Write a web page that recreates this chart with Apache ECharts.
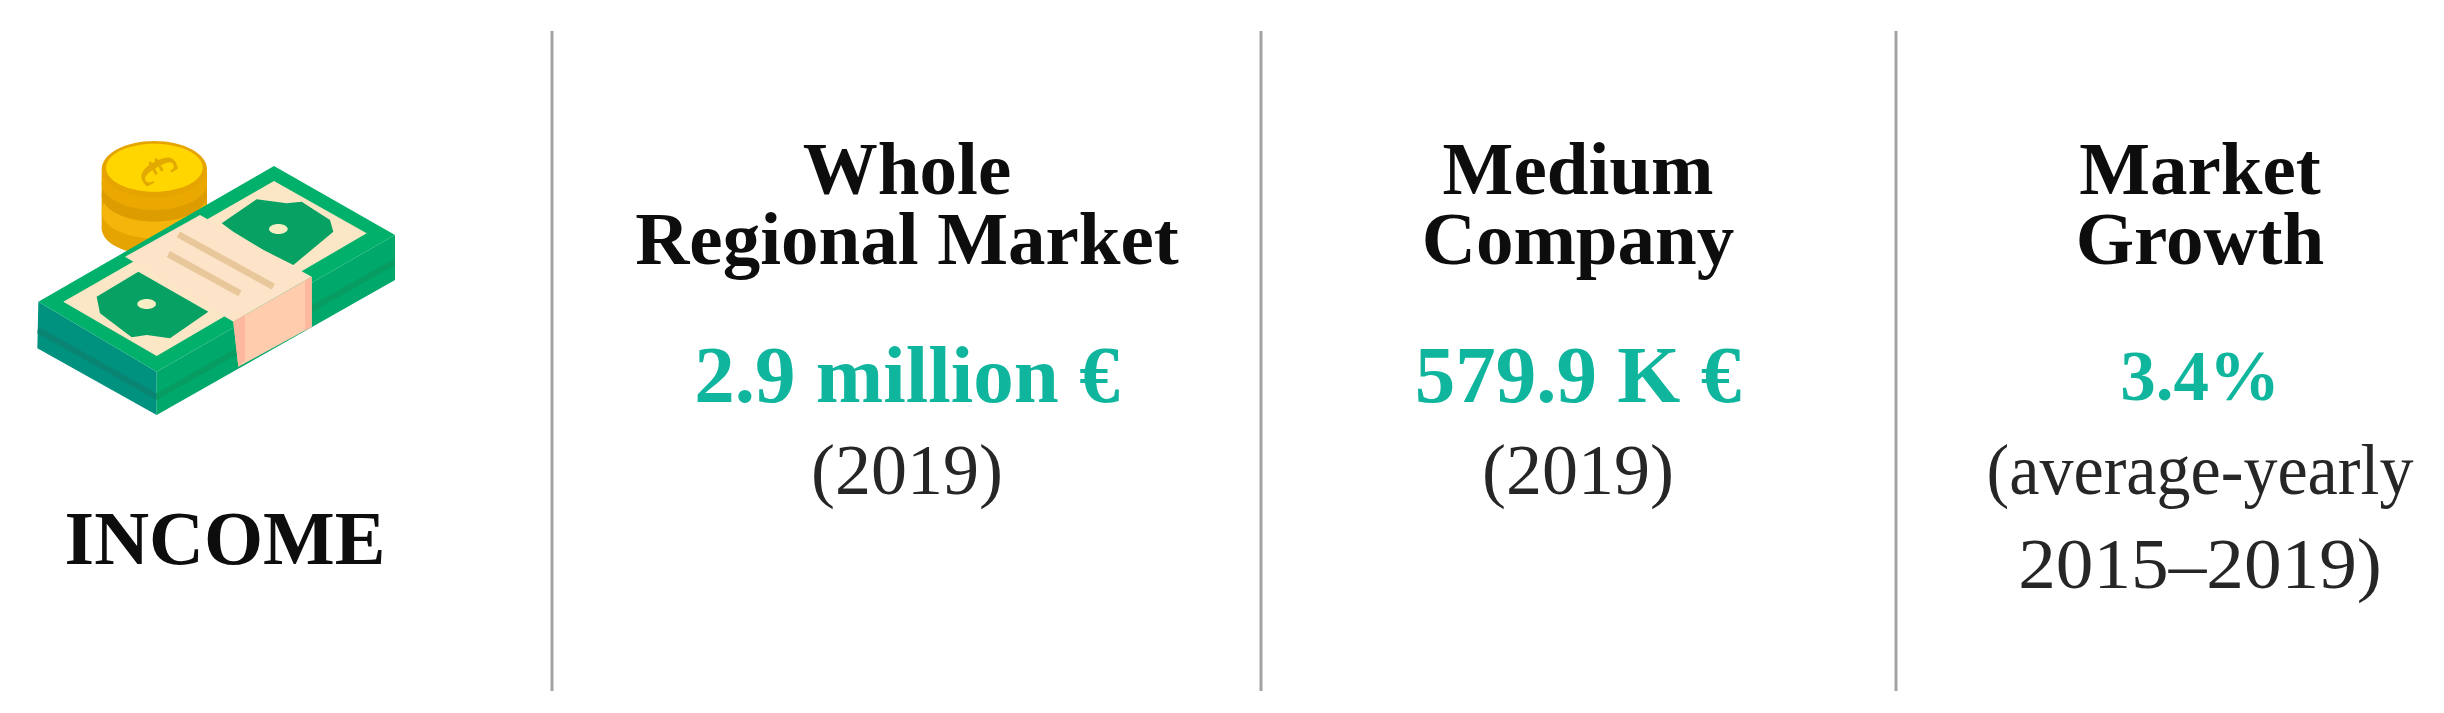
<!DOCTYPE html>
<html>
<head>
<meta charset="utf-8">
<title>Income</title>
<script src="https://cdn.jsdelivr.net/npm/echarts@6/dist/echarts.min.js"></script>
<style>
html, body { margin: 0; padding: 0; background: #fff; }
#main { width: 2444px; height: 713px; }
</style>
</head>
<body>
<div id="main"></div>
<script>
var iconTitle = "INCOME";
var headFirst = ["Whole", "Medium", "Market"];
var headSecond = ["Regional Market", "Company", "Growth"];
var values = ["2.9 million €", "579.9 K €", "3.4%"];
var noteFirst = ["(2019)", "(2019)", "(average-yearly"];
var noteSecond = ["", "", "2015–2019)"];

var columnX = [907, 1578, 2200];
var dividerX = [552, 1261, 1896];
var valueSize = [81, 81, 71];
var noteFirstStretch = [1, 1, 0.945];
var noteSecondStretch = [1, 1, 1.045];
var serif = '"Liberation Serif", serif';

function textItem(str, x, y, size, weight, color, scaleX) {
    return {
        type: 'text',
        x: x,
        y: y,
        scaleX: scaleX || 1,
        style: {
            text: str,
            x: 0,
            y: 0,
            fill: color,
            font: weight + ' ' + size + 'px ' + serif,
            textAlign: 'center',
            textVerticalAlign: 'middle'
        }
    };
}

function poly(points, color, z) {
    return {type: 'polygon', z: z, shape: {points: points}, style: {fill: color}};
}

function oval(cx, cy, rx, ry, color, z) {
    return {type: 'ellipse', z: z, shape: {cx: cx, cy: cy, rx: rx, ry: ry}, style: {fill: color}};
}

// icon is traced at 3x, the group scales it back down
function moneyIcon() {
    var c = [];
    // coins
    c.push({type: 'rect', z: 1, shape: {x: 305, y: 215, width: 316, height: 170}, style: {fill: '#e6a400'}});
    c.push(oval(463, 385, 158, 80, '#e6a400', 1));
    c.push(oval(463, 335, 158, 80, '#f5b50a', 1));
    c.push(oval(463, 285, 158, 80, '#dd9c00', 1));
    c.push(oval(463, 250, 158, 80, '#eba800', 1));
    c.push(oval(463, 208, 158, 85, '#e6a400', 1));
    c.push(oval(463, 203, 145, 72, '#ffd600', 1));
    c.push({
        type: 'text', z: 1, x: 463, y: 213, rotation: -1.05, scaleX: 0.75,
        style: {text: '€', x: 0, y: 0, fill: '#e2aa00', font: 'bold 170px ' + serif, textAlign: 'center', textVerticalAlign: 'middle'}
    });
    // stack of notes
    c.push(poly([[115, 605], [112, 745], [470, 945], [470, 815]], '#00917f', 2));
    c.push(poly([[115, 680], [112, 700], [470, 900], [470, 880]], '#0a8574', 2));
    c.push(poly([[470, 815], [470, 945], [1185, 540], [1185, 405]], '#00a86b', 2));
    c.push(poly([[470, 880], [470, 900], [1185, 495], [1185, 475]], '#069c62', 2));
    c.push(poly([[115, 605], [822, 198], [1185, 405], [470, 815]], '#00b06b', 2));
    // paper of the top note
    c.push(poly([[190, 605], [822, 243], [1100, 400], [470, 768]], '#fbe7c6', 3));
    c.push(poly([[665, 370], [770, 298], [860, 310], [905, 305], [990, 360], [1000, 395], [880, 495], [790, 450], [700, 395]], '#06a163', 4));
    c.push(poly([[290, 590], [415, 515], [625, 635], [510, 715], [440, 705], [395, 712], [300, 640]], '#06a163', 4));
    c.push(oval(835, 387, 28, 15, '#f6eec4', 5));
    c.push(oval(440, 612, 28, 15, '#f6eec4', 5));
    // green end showing beside the band
    c.push(poly([[600, 345], [622, 352], [665, 327], [650, 315]], '#00b06b', 5));
    // paper band
    c.push(poly([[375, 470], [600, 345], [935, 530], [700, 665]], '#fde3c8', 6));
    c.push(poly([[700, 665], [935, 530], [935, 680], [715, 800]], '#ffcdae', 6));
    c.push(poly([[700, 665], [735, 645], [735, 780], [715, 800]], '#ffb8a0', 7));
    c.push(poly([[915, 542], [935, 530], [935, 680], [915, 692]], '#ffb8a0', 7));
    c.push({type: 'line', z: 8, shape: {x1: 535, y1: 403, x2: 820, y2: 560}, style: {stroke: '#e8c79a', lineWidth: 20}});
    c.push({type: 'line', z: 8, shape: {x1: 505, y1: 462, x2: 720, y2: 580}, style: {stroke: '#e8c79a', lineWidth: 20}});
    return {type: 'group', x: 0, y: 100, scaleX: 1 / 3, scaleY: 1 / 3, children: c};
}

function buildGraphic() {
    var items = [];
    var i;
    items.push(moneyIcon());
    items.push(textItem(iconTitle, 225, 544, 76, 'bold', '#0d0d0d'));
    for (i = 0; i < dividerX.length; i++) {
        items.push({
            type: 'line',
            shape: {x1: dividerX[i], y1: 31, x2: dividerX[i], y2: 691},
            style: {stroke: '#a3a3a3', lineWidth: 3}
        });
    }
    for (i = 0; i < columnX.length; i++) {
        items.push(textItem(headFirst[i], columnX[i], 175, 75, 'bold', '#0d0d0d'));
        items.push(textItem(headSecond[i], columnX[i], 245, 75, 'bold', '#0d0d0d'));
        items.push(textItem(values[i], columnX[i], i == 2 ? 382 : 381, valueSize[i], 'bold', '#10b59d'));
        items.push(textItem(noteFirst[i], columnX[i], 475, 72, 'normal', '#262626', noteFirstStretch[i]));
        if (noteSecond[i] != "") {
            items.push(textItem(noteSecond[i], columnX[i], 569, 72, 'normal', '#262626', noteSecondStretch[i]));
        }
    }
    return items;
}

var myChart = echarts.init(document.getElementById('main'), null, {renderer: 'canvas'});
myChart.setOption({
    backgroundColor: '#ffffff',
    animation: false,
    graphic: {elements: buildGraphic()}
});
</script>
</body>
</html>
